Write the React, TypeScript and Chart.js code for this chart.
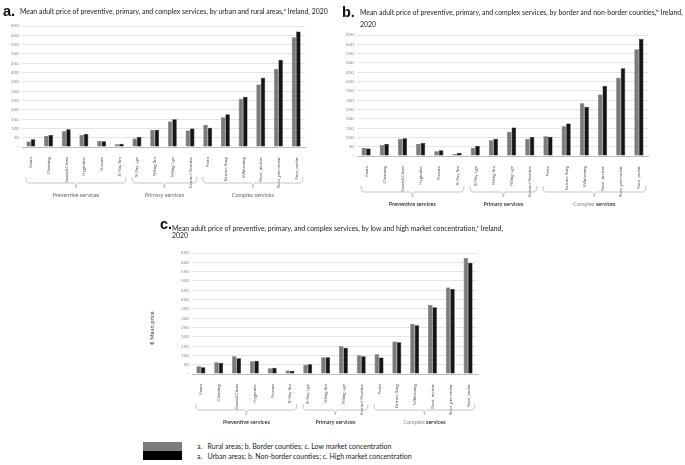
import React, { useEffect, useRef } from "react";
import { Chart, registerables } from "chart.js";

Chart.register(...registerables);

const categories = [
  "Exam", "Cleaning", "Exam&Clean", "Hygienist", "Fissure", "X-Ray Sm",
  "X-Ray Lge", "Filling Sm", "Filling Lge", "Extract Routine",
  "Perio", "Extract Surg", "Whitening", "Root_incisor", "Root_pre-molar", "Root_molar",
];

const groupLabels = ["Preventive services", "Primary services", "Complex services"];
const groupFrom = [0, 6, 10];
const groupTo = [5, 9, 15];

// Panel a: rural (grey) vs urban (black)
const ruralA = [29, 59, 84, 66, 32, 15, 45, 92, 137, 88, 118, 160, 259, 336, 420, 589];
const urbanA = [41, 65, 95, 70, 31, 18, 54, 91, 149, 100, 104, 176, 270, 372, 467, 620];

// Panel b: border (grey) vs non-border (black)
const borderB = [43, 59, 92, 65, 25, 11, 43, 85, 129, 93, 106, 160, 284, 330, 420, 573];
const nonBorderB = [40, 65, 95, 70, 31, 18, 54, 92, 153, 102, 104, 175, 265, 376, 471, 628];

// Panel c: low (grey) vs high (black) market concentration
const lowC = [41, 63, 96, 68, 31, 19, 50, 90, 149, 101, 106, 174, 269, 371, 465, 623];
const highC = [36, 59, 84, 71, 34, 17, 52, 90, 141, 96, 88, 170, 262, 359, 456, 598];

const yMin = 0;
const yMax = 650;
const yStep = 50;

const GREY = "#7b7b7b";
const BLACK = "#151515";
const FONT = "Lato, 'Open Sans', sans-serif";
const GF = 5.5;

const bracketPlugin = {
  id: "brackets",
  afterDraw(chart: any, _args: any, opts: any) {
    const { ctx, chartArea, scales } = chart;
    const x = scales.x;
    const cw = x.getPixelForValue(1) - x.getPixelForValue(0);
    const base = chartArea.bottom;
    const y = base + 36;
    ctx.save();
    ctx.strokeStyle = "#b4b4b4";
    ctx.lineWidth = 0.8;
    for (let i = 0; i < groupLabels.length; i++) {
      const l = x.getPixelForValue(groupFrom[i]) - cw * 0.28;
      const r = x.getPixelForValue(groupTo[i]) + cw * 0.38;
      const m = (l + r) / 2;
      ctx.beginPath();
      ctx.moveTo(l, y - 6);
      ctx.quadraticCurveTo(l, y, l + 3, y);
      ctx.lineTo(m - 2, y);
      ctx.quadraticCurveTo(m, y, m, y + 5);
      ctx.moveTo(m, y + 5);
      ctx.quadraticCurveTo(m, y, m + 2, y);
      ctx.lineTo(r - 3, y);
      ctx.quadraticCurveTo(r, y, r, y - 6);
      ctx.stroke();

      const ty = base + 48;
      ctx.textBaseline = "middle";
      const label = groupLabels[i];
      if (opts.style === "a") {
        ctx.font = `${GF}px ${FONT}`;
        ctx.fillStyle = "#6a6a6a";
        ctx.textAlign = "center";
        ctx.fillText(label, m, ty);
      } else if (i < 2) {
        ctx.font = `600 ${GF}px ${FONT}`;
        ctx.fillStyle = "#2a2a2a";
        ctx.textAlign = "center";
        ctx.fillText(label, m, ty);
      } else {
        const parts = label.split(" ");
        ctx.font = `${GF}px ${FONT}`;
        const w1 = ctx.measureText(parts[0] + " ").width;
        ctx.font = `600 ${GF}px ${FONT}`;
        const w2 = ctx.measureText(parts[1]).width;
        const start = m - (w1 + w2) / 2;
        ctx.textAlign = "left";
        ctx.font = `${GF}px ${FONT}`;
        ctx.fillStyle = "#8a8a8a";
        ctx.fillText(parts[0] + " ", start, ty);
        ctx.font = `600 ${GF}px ${FONT}`;
        ctx.fillStyle = "#2a2a2a";
        ctx.fillText(parts[1], start + w1, ty);
      }
    }
    ctx.restore();
  },
};

type PanelProps = {
  left: number; top: number; width: number; height: number;
  padTop: number; padRight: number; yWidth: number; xHeight: number;
  grey: number[]; black: number[]; style: string;
};

function Panel(p: PanelProps) {
  const ref = useRef<HTMLCanvasElement>(null);
  useEffect(() => {
    const chart = new Chart(ref.current as HTMLCanvasElement, {
      type: "bar",
      data: {
        labels: categories,
        datasets: [
          { data: p.grey, backgroundColor: GREY, borderColor: "#4a4a4a", borderWidth: 0.5, categoryPercentage: 0.5, barPercentage: 1 },
          { data: p.black, backgroundColor: BLACK, borderColor: "#000", borderWidth: 0.5, categoryPercentage: 0.5, barPercentage: 1 },
        ],
      },
      options: {
        responsive: false,
        maintainAspectRatio: false,
        animation: false,
        layout: { padding: { top: p.padTop, right: p.padRight, left: 0, bottom: 0 } },
        plugins: {
          legend: { display: false },
          tooltip: { enabled: false },
          title: { display: false },
          brackets: { style: p.style },
        } as any,
        scales: {
          x: {
            grid: { display: false },
            border: { color: "#bdbdbd" },
            ticks: {
              autoSkip: false, minRotation: 90, maxRotation: 90, padding: 2,
              font: { family: FONT, size: 4.6 }, color: "#555",
            },
            afterFit: (s: any) => { s.height = p.xHeight; },
          },
          y: {
            min: yMin, max: yMax,
            ticks: {
              stepSize: yStep, padding: 3,
              font: { family: FONT, size: 4.6 }, color: "#888",
              callback: (v: any) => (v === 0 ? "-" : v),
            },
            grid: { color: "#dcdcdc", drawTicks: false, lineWidth: 0.8 },
            border: { display: false },
            afterFit: (s: any) => { s.width = p.yWidth; },
          },
        },
      },
      plugins: [bracketPlugin],
    });
    return () => chart.destroy();
  }, []);
  return (
    <canvas
      ref={ref}
      width={p.width}
      height={p.height}
      style={{ position: "absolute", left: p.left, top: p.top, width: p.width, height: p.height }}
    />
  );
}

function T(props: { x: number; cy: number; size: number; bold?: boolean; family?: string; color?: string; children: any }) {
  return (
    <div
      style={{
        position: "absolute",
        left: props.x,
        top: props.cy - props.size * 0.55,
        fontSize: props.size,
        lineHeight: `${props.size}px`,
        fontWeight: props.bold ? 700 : 400,
        fontFamily: props.family || FONT,
        color: props.color || "#222",
        whiteSpace: "nowrap",
        zIndex: 2,
      }}
    >
      {props.children}
    </div>
  );
}

const TS = 6.9;
const LS = 7;
const BIG = "'Liberation Sans', Arial, sans-serif";

export default function App() {
  return (
    <div style={{ position: "fixed", left: 0, top: 0, width: 685, height: 465, background: "#fff", overflow: "hidden" }}>
      <Panel left={0} top={0} width={340} height={205} padTop={26} padRight={35} yWidth={22} xHeight={58} grey={ruralA} black={urbanA} style="a" />
      <Panel left={340} top={0} width={345} height={215} padTop={35} padRight={37} yWidth={17} xHeight={59} grey={borderB} black={nonBorderB} style="bc" />
      <Panel left={130} top={215} width={380} height={215} padTop={38} padRight={33} yWidth={62} xHeight={56} grey={lowC} black={highC} style="bc" />

      <T x={3} cy={11.5} size={14.5} bold family={BIG} color="#111">a.</T>
      <T x={20} cy={11} size={TS}>Mean adult price of preventive, primary, and complex services, by urban and rural areas,<sup style={{ fontSize: 4.5 }}>a</sup> Ireland, 2020</T>

      <T x={342} cy={13} size={14.5} bold family={BIG} color="#111">b.</T>
      <T x={360} cy={12} size={TS}>Mean adult price of preventive, primary, and complex services, by border and non-border counties,<sup style={{ fontSize: 4.5 }}>b</sup> Ireland,</T>
      <T x={360} cy={24.5} size={TS}>2020</T>

      <T x={160} cy={225} size={14.5} bold family={BIG} color="#111">c.</T>
      <T x={172} cy={228} size={TS}>Mean adult price of preventive, primary, and complex services, by low and high market concentration,<sup style={{ fontSize: 4.5 }}>c</sup> Ireland,</T>
      <T x={172} cy={236} size={TS}>2020</T>

      <div style={{ position: "absolute", left: 152 - 30, top: 328 - 4, width: 60, height: 8, transform: "rotate(-90deg)", textAlign: "center", fontSize: 5.8, lineHeight: "8px", fontFamily: FONT, color: "#444", zIndex: 2 }}>
        € Mean price
      </div>

      <div style={{ position: "absolute", left: 143, top: 442, width: 39, height: 9, background: GREY }} />
      <div style={{ position: "absolute", left: 143, top: 451, width: 39, height: 9, background: "#000" }} />
      <T x={197} cy={447} size={LS}>a.&nbsp;&nbsp;&nbsp;Rural areas; b. Border counties; c. Low market concentration</T>
      <T x={197} cy={456.5} size={LS}>a.&nbsp;&nbsp;&nbsp;Urban areas; b. Non-border counties; c. High market concentration</T>
    </div>
  );
}
